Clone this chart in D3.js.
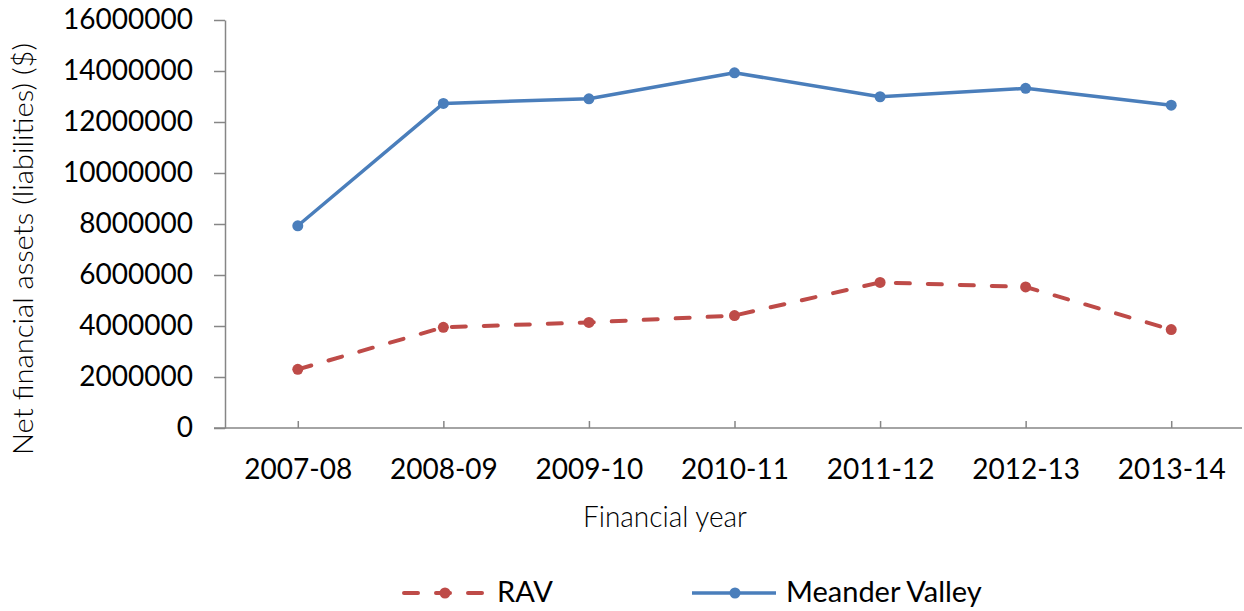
<!DOCTYPE html>
<html>
<head>
<meta charset="utf-8">
<script src="https://cdn.jsdelivr.net/npm/d3@7"></script>
<style>
  html, body { margin: 0; padding: 0; background: #fff; }
  svg { display: block; }
  .tick text { font-family: Lato, "Open Sans", sans-serif; font-size: 28px; fill: #000; }
</style>
</head>
<body>
<div id="chart"></div>
<script>
// Datos
const years = ["2007-08", "2008-09", "2009-10", "2010-11", "2011-12", "2012-13", "2013-14"];
const ravValues = [2300000, 3950000, 4140000, 4410000, 5710000, 5530000, 3860000];
const meanderValues = [7930000, 12730000, 12910000, 13930000, 12990000, 13320000, 12660000];
const yTicks = [0, 2000000, 4000000, 6000000, 8000000, 10000000, 12000000, 14000000, 16000000];

const width = 1244, height = 611;
const blue = "#4a7ebb", red = "#be4b48", axisColor = "#868686";

const svg = d3.select("#chart")
    .append("svg")
    .attr("width", width)
    .attr("height", height);

// Escalas
const x = d3.scalePoint()
    .domain(years)
    .range([225, 1244])
    .padding(0.5);

const y = d3.scaleLinear()
    .domain([0, 16000000])
    .range([428, 20]);

// Eje Y
const yAxis = svg.append("g")
    .attr("transform", "translate(225,0)")
    .call(d3.axisLeft(y).tickValues(yTicks).tickFormat(d3.format("d")).tickSize(11).tickSizeOuter(0).tickPadding(21));
yAxis.select(".domain").attr("stroke", axisColor).attr("stroke-width", 1.5);
yAxis.selectAll(".tick line").attr("stroke", axisColor).attr("stroke-width", 1.5);

// Eje X (marcas hacia arriba)
const xAxis = svg.append("g")
    .attr("transform", "translate(0,428)")
    .call(d3.axisBottom(x).tickSize(-7).tickSizeOuter(0));
xAxis.select(".domain").remove();
xAxis.selectAll(".tick line").attr("stroke", axisColor).attr("stroke-width", 1.5);
xAxis.selectAll(".tick text").attr("y", 51).attr("dy", 0);
xAxis.append("line")
    .attr("x1", 214).attr("x2", 1242)
    .attr("y1", 0).attr("y2", 0)
    .attr("stroke", axisColor)
    .attr("stroke-width", 1.5);

// Titulos de ejes
svg.append("text")
    .attr("transform", "translate(33,249) rotate(-90)")
    .attr("text-anchor", "middle")
    .attr("textLength", 412)
    .attr("lengthAdjust", "spacingAndGlyphs")
    .style("font-family", "Lato, sans-serif")
    .style("font-weight", 300)
    .style("font-size", "28px")
    .text("Net financial assets (liabilities) ($)");

svg.append("text")
    .attr("x", 665)
    .attr("y", 527)
    .attr("text-anchor", "middle")
    .attr("textLength", 164)
    .attr("lengthAdjust", "spacingAndGlyphs")
    .style("font-family", "Lato, sans-serif")
    .style("font-weight", 300)
    .style("font-size", "30px")
    .text("Financial year");

// Series
const series = [
    { name: "RAV", values: ravValues, color: red, dash: "14 18" },
    { name: "Meander Valley", values: meanderValues, color: blue, dash: null }
];

series.forEach(s => {
    const line = d3.line()
        .x((d, i) => x(years[i]))
        .y(d => y(d));

    svg.append("path")
        .datum(s.values)
        .attr("fill", "none")
        .attr("stroke", s.color)
        .attr("stroke-width", s.dash ? 4 : 3.5)
        .attr("stroke-linecap", s.dash ? "round" : "butt")
        .attr("stroke-linejoin", "round")
        .attr("stroke-dasharray", s.dash)
        .attr("d", line);

    svg.append("g")
        .selectAll("circle")
        .data(s.values)
        .enter()
        .append("circle")
        .attr("cx", (d, i) => x(years[i]))
        .attr("cy", d => y(d))
        .attr("r", 5.5)
        .attr("fill", s.color);
});

// Leyenda
const legendItems = [
    { name: "RAV", color: red, dash: "14 18", x0: 404, x1: 487, mx: 445, tx: 497 },
    { name: "Meander Valley", color: blue, dash: null, x0: 692, x1: 776, mx: 735, tx: 786 }
];

const legend = svg.append("g").attr("class", "legend");
legendItems.forEach(item => {
    legend.append("line")
        .attr("x1", item.x0).attr("x2", item.x1)
        .attr("y1", 593).attr("y2", 593)
        .attr("stroke", item.color)
        .attr("stroke-width", item.dash ? 4 : 3.5)
        .attr("stroke-linecap", item.dash ? "round" : "butt")
        .attr("stroke-dasharray", item.dash);
    legend.append("circle")
        .attr("cx", item.mx).attr("cy", 593)
        .attr("r", 5.5)
        .attr("fill", item.color);
    legend.append("text")
        .attr("x", item.tx)
        .attr("y", 602)
        .style("font-family", "Lato, sans-serif")
        .style("font-size", "29px")
        .text(item.name);
});
</script>
</body>
</html>
